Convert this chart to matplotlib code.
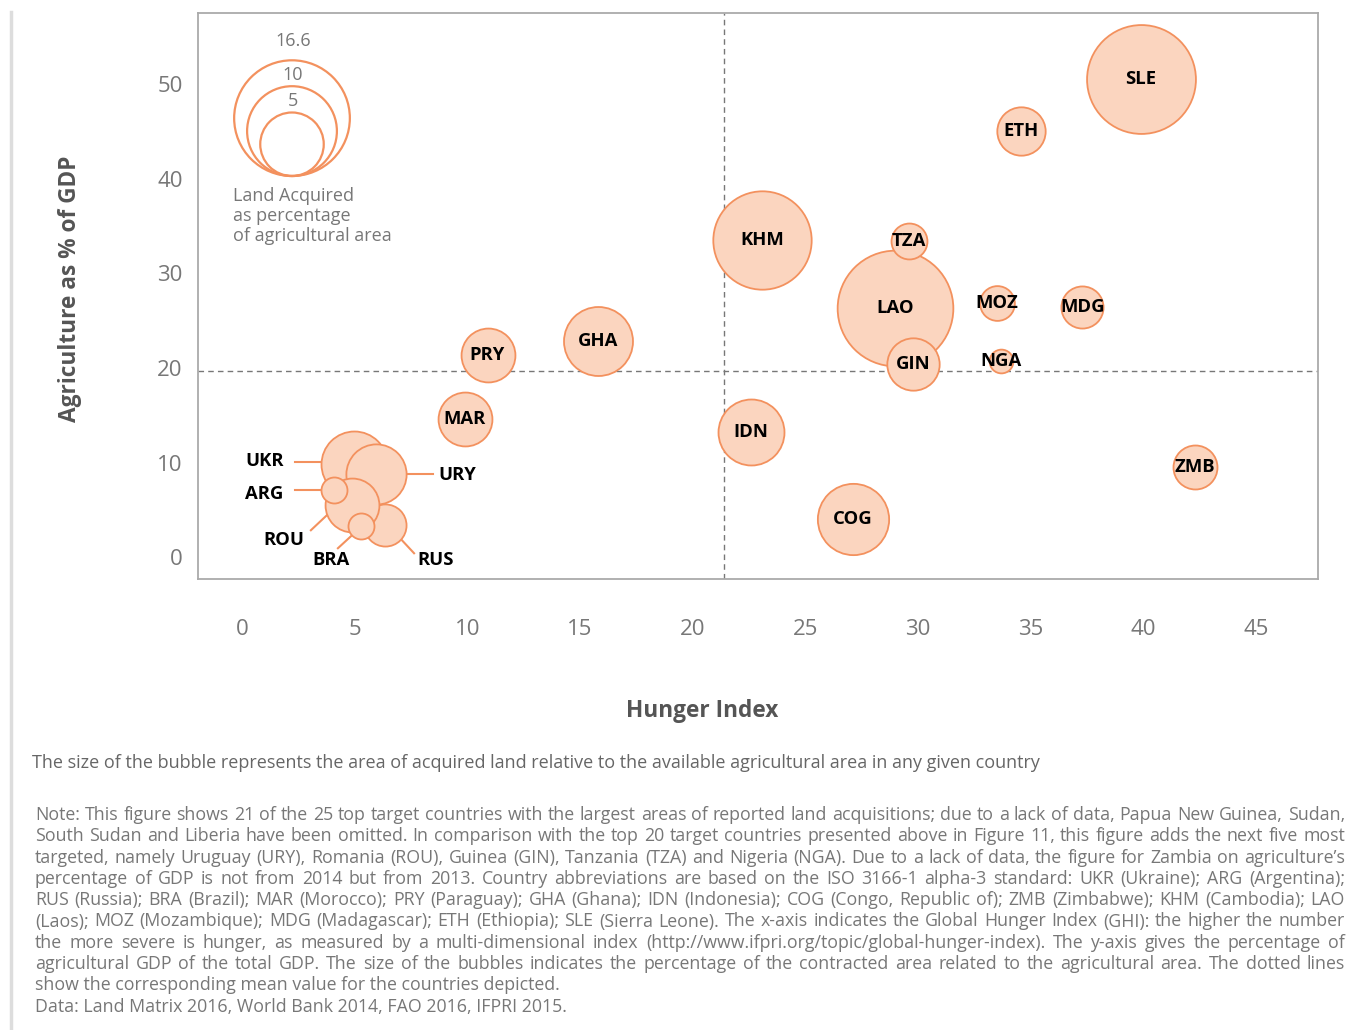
import numpy as np
import matplotlib
matplotlib.use('Agg')
import matplotlib.pyplot as plt
from matplotlib.lines import Line2D

plt.rcParams['font.family'] = ['Open Sans', 'DejaVu Sans']

# data: hunger index (x), agriculture % of GDP (y), land acquired % of agri area (size)
codes = ['SLE', 'KHM', 'COG', 'GHA', 'IDN', 'ETH', 'ZMB', 'MDG', 'MAR', 'PRY',
         'NGA', 'MOZ', 'LAO', 'TZA', 'GIN',
         'RUS', 'UKR', 'URY', 'ROU', 'ARG', 'BRA']
hunger = [39.9, 23.1, 27.1, 15.8, 22.6, 34.6, 42.3, 37.3, 9.9, 10.9,
          33.7, 33.5, 29.0, 29.6, 29.8,
          6.36, 4.97, 5.97, 4.87, 4.08, 5.27]
agri_gdp = [50.5, 33.5, 4.0, 22.8, 13.2, 45.0, 9.5, 26.4, 14.6, 21.4,
            20.7, 26.9, 26.3, 33.4, 20.4,
            3.4, 9.9, 8.8, 5.5, 7.1, 3.3]
land_share = [14.7, 12.0, 6.3, 5.9, 5.4, 2.9, 2.4, 2.2, 3.6, 3.6,
              0.7, 1.5, 16.6, 1.6, 3.4,
              2.2, 5.4, 4.5, 3.6, 0.84, 0.84]
legend_vals = [16.6, 10, 5]
mean_hunger = 21.4
mean_agri = 19.7

# labels outside bubbles (cluster) : text pos, leader line start, end
outside = {
    'UKR': ((1.02, 10.15), (2.36, 10.04), (3.55, 10.04)),
    'ARG': ((0.97, 6.66), (2.36, 7.08), (3.51, 7.08)),
    'URY': ((9.58, 8.67), (7.33, 8.77), (8.48, 8.77)),
    'ROU': ((1.87, 1.80), (3.06, 2.85), (3.77, 4.44)),
    'BRA': ((3.95, -0.32), (4.26, 0.95), (4.84, 2.22)),
    'RUS': ((8.61, -0.32), (7.10, 1.80), (7.64, 0.42)),
}

W, H = 1358, 1030
fill = '#fbd5bf'
edge = '#f3915e'
grey = '#777777'
k = 418  # scatter area (pt^2) per unit of land share

fig = plt.figure(figsize=(W / 100, H / 100), dpi=100)
ax = fig.add_axes([198 / W, 1 - 579 / H, 1120 / W, 566 / H])

for i, c in enumerate(codes):
    ax.scatter(hunger[i], agri_gdp[i], s=k * land_share[i], color=fill,
               edgecolor=edge, linewidth=1.3, zorder=3 + i * 0.01)
    if c in outside:
        tp, p0, p1 = outside[c]
        ax.plot([p0[0], p1[0]], [p0[1], p1[1]], color=edge, lw=1.5, zorder=2.9)
        ax.text(tp[0], tp[1], c, ha='center', va='center', fontsize=13.3,
                fontweight='bold', color='black', zorder=5)
    else:
        ax.text(hunger[i], agri_gdp[i], c, ha='center', va='center', fontsize=13.3,
                fontweight='bold', color='black', zorder=5)

ax.axvline(mean_hunger, color=grey, lw=1, dashes=(4, 3), zorder=1)
ax.axhline(mean_agri, color=grey, lw=1, dashes=(4, 3), zorder=1)

ax.set_xlim(-1.95, 47.76)
ax.set_ylim(-2.3, 57.5)
ax.set_xticks(range(0, 50, 5))
ax.set_yticks(range(0, 60, 10))
ax.tick_params(axis='x', length=0, pad=29, labelsize=16, labelcolor=grey)
ax.tick_params(axis='y', length=0, pad=11, labelsize=16, labelcolor=grey)
for sp in ax.spines.values():
    sp.set_color('#aaaaaa')
    sp.set_linewidth(1.3)

# size legend (nested circles sharing a bottom point)
lx, lb = 292, 176
for v in legend_vals:
    r = 14.2 * np.sqrt(v)
    cy = lb - r
    ax.scatter((lx - 198) / 1120, (579 - cy) / 566, s=k * v, facecolor='none',
               edgecolor=edge, linewidth=1.6, transform=ax.transAxes, zorder=2)
for v, ty in zip(legend_vals, [41, 75, 101]):
    fig.text(293 / W, 1 - ty / H, f'{v:g}', ha='center', va='center',
             fontsize=13, color=grey)
fig.text(233 / W, 1 - 216 / H, 'Land Acquired\nas percentage\nof agricultural area',
         ha='left', va='center', fontsize=13, color=grey, linespacing=1.17)

fig.text(702 / W, 1 - 711 / H, 'Hunger Index', ha='center', va='center',
         fontsize=16.3, fontweight='bold', color='#555555')
fig.text(70 / W, 1 - 289 / H, 'Agriculture as % of GDP', ha='center', va='center',
         rotation=90, fontsize=16.3, fontweight='bold', color='#555555')

fig.add_artist(Line2D([10.5 / W, 10.5 / W], [0, 1 - 12 / H], color='#dddddd', lw=2.5))

fig.text(32 / W, 1 - 763 / H,
         'The size of the bubble represents the area of acquired land relative to the '
         'available agricultural area in any given country',
         ha='left', va='center', fontsize=13, color='#666666')

note_lines = [
    'Note: This figure shows 21 of the 25 top target countries with the largest areas of reported land acquisitions; due to a lack of data, Papua New Guinea, Sudan,',
    'South Sudan and Liberia have been omitted. In comparison with the top 20 target countries presented above in Figure 11, this figure adds the next five most',
    'targeted, namely Uruguay (URY), Romania (ROU), Guinea (GIN), Tanzania (TZA) and Nigeria (NGA). Due to a lack of data, the figure for Zambia on agriculture\u2019s',
    'percentage of GDP is not from 2014 but from 2013. Country abbreviations are based on the ISO 3166-1 alpha-3 standard: UKR (Ukraine); ARG (Argentina);',
    'RUS (Russia); BRA (Brazil); MAR (Morocco); PRY (Paraguay); GHA (Ghana); IDN (Indonesia); COG (Congo, Republic of); ZMB (Zimbabwe); KHM (Cambodia); LAO',
    '(Laos); MOZ (Mozambique); MDG (Madagascar); ETH (Ethiopia); SLE (Sierra Leone). The x-axis indicates the Global Hunger Index (GHI): the higher the number',
    'the more severe is hunger, as measured by a multi-dimensional index (http://www.ifpri.org/topic/global-hunger-index). The y-axis gives the percentage of',
    'agricultural GDP of the total GDP. The size of the bubbles indicates the percentage of the contracted area related to the agricultural area. The dotted lines',
    'show the corresponding mean value for the countries depicted.',
    'Data: Land Matrix 2016, World Bank 2014, FAO 2016, IFPRI 2015.',
]
x0, x1, y0, dy = 35, 1345, 815, 21.3
renderer = fig.canvas.get_renderer()


def width_of(s, size):
    t = fig.text(0, 0, s, fontsize=size)
    w = t.get_window_extent(renderer).width
    t.remove()
    return w


fs = 13
widest = max(width_of(l, fs) for l in note_lines[:8])
if widest > 0.985 * (x1 - x0):
    fs = fs * 0.985 * (x1 - x0) / widest

for i, line in enumerate(note_lines):
    y = 1 - (y0 + i * dy) / H
    if i >= 8:
        fig.text(x0 / W, y, line, ha='left', va='center', fontsize=fs, color=grey)
        continue
    words = line.split(' ')
    ws = [width_of(w, fs) for w in words]
    gap = ((x1 - x0) - sum(ws)) / (len(words) - 1)
    x = x0
    for w, wd in zip(words, ws):
        fig.text(x / W, y, w, ha='left', va='center', fontsize=fs, color=grey)
        x += wd + gap

fig.savefig('out.png', dpi=100)
